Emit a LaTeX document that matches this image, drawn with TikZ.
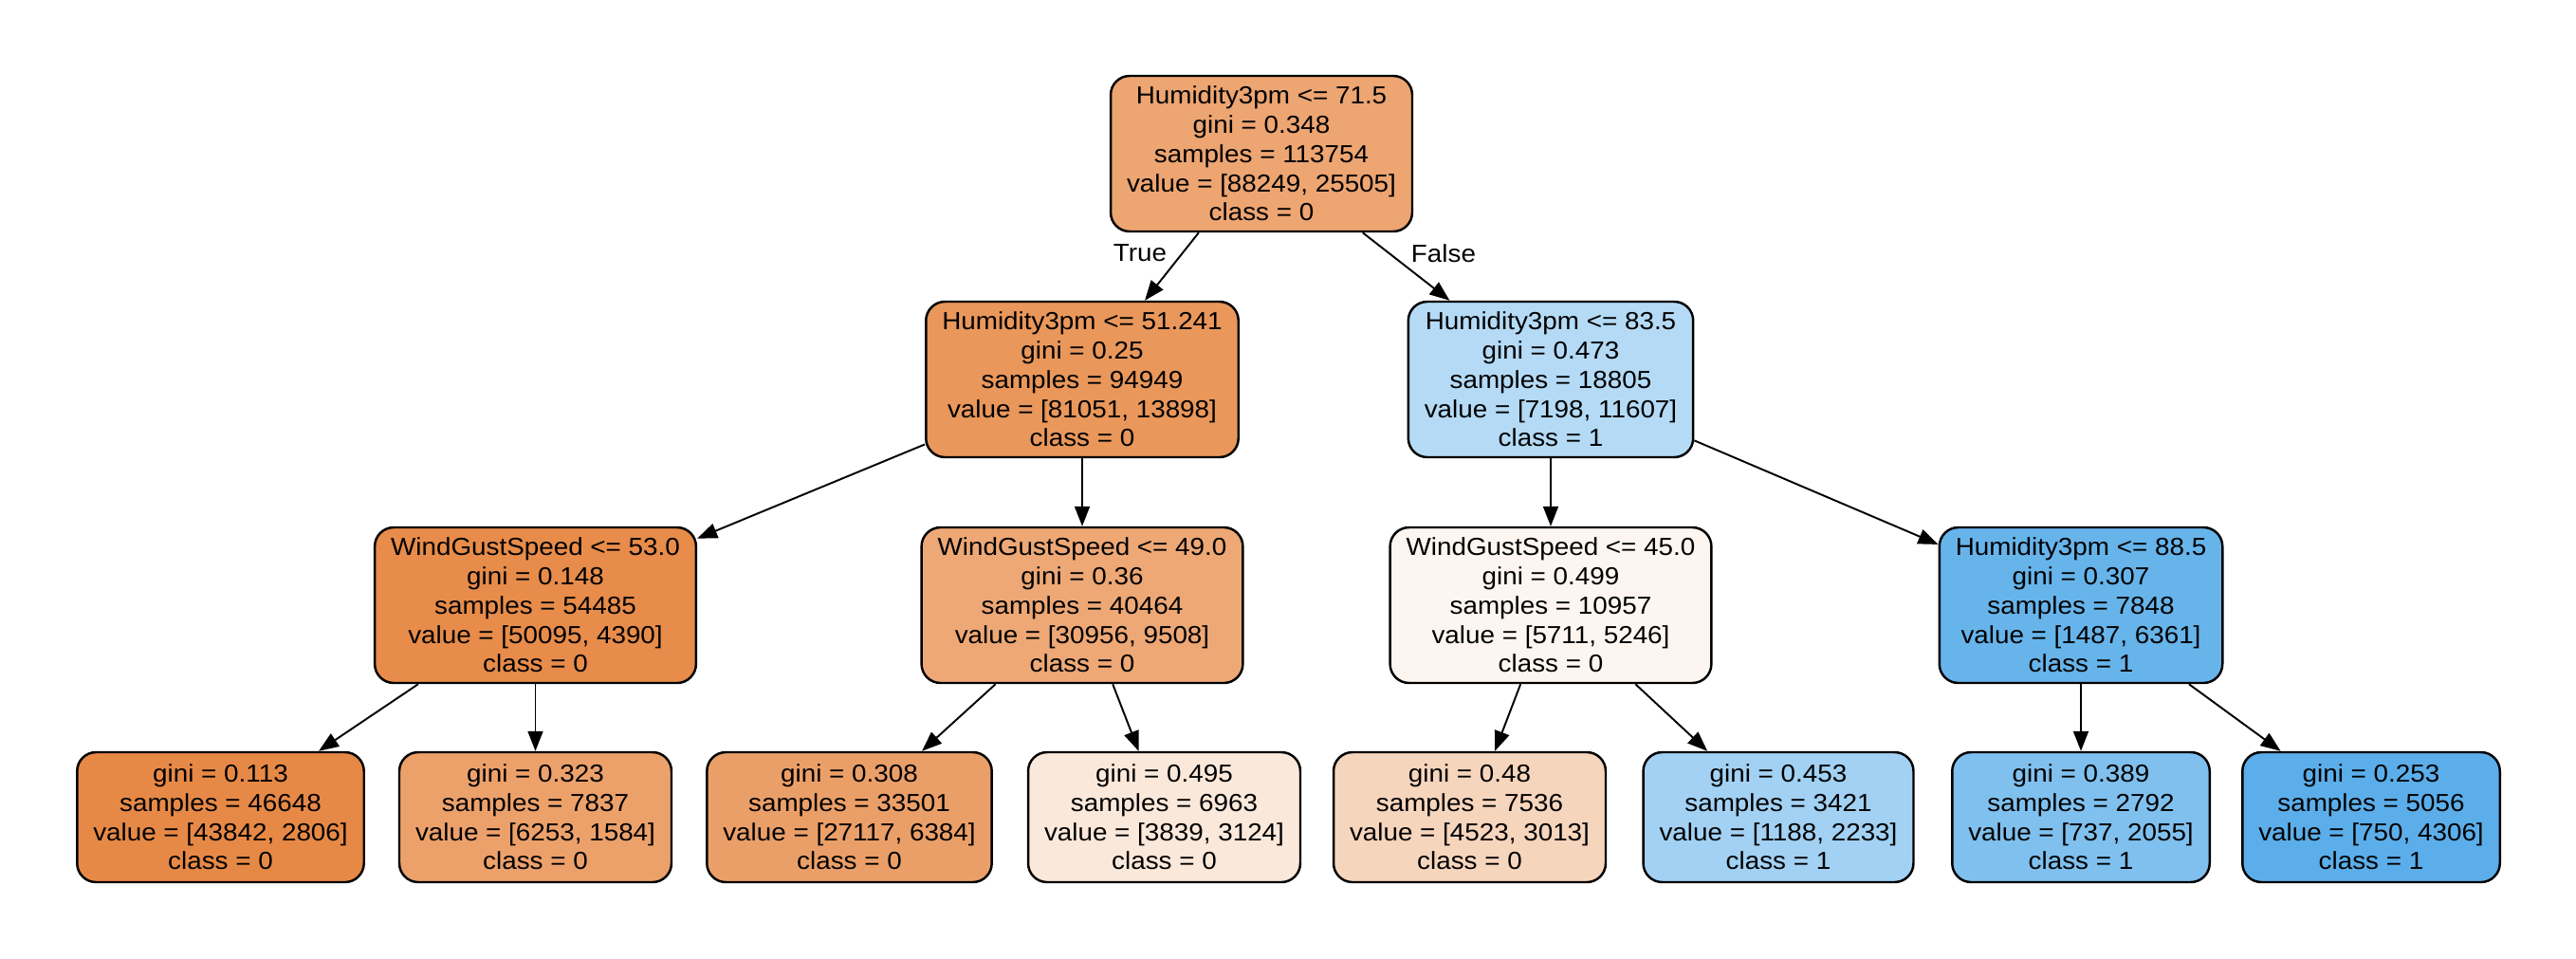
\documentclass[tikz,border=0pt]{standalone}
\usepackage{fontspec}
\setmainfont{Liberation Sans}[FakeStretch=1.07]
\usetikzlibrary{arrows.meta}
\definecolor{colroot}{HTML}{EDA572}
\definecolor{colhl}{HTML}{E9975B}
\definecolor{colhr}{HTML}{B4DAF5}
\definecolor{colwa}{HTML}{E78C4A}
\definecolor{colwb}{HTML}{EDA876}
\definecolor{colwc}{HTML}{FDF5EF}
\definecolor{colhd}{HTML}{67B4EB}
\definecolor{colla}{HTML}{E78946}
\definecolor{collb}{HTML}{ECA16B}
\definecolor{collc}{HTML}{EB9F68}
\definecolor{colld}{HTML}{FAE8DA}
\definecolor{colle}{HTML}{F6D5BD}
\definecolor{collf}{HTML}{A2D1F3}
\definecolor{collg}{HTML}{80C0EE}
\definecolor{collh}{HTML}{5BAEEA}

\begin{document}
\begin{tikzpicture}[
    font=\fontsize{7.4}{8.76}\selectfont,
    >={Triangle[length=2.1mm,width=1.6mm]},
    split/.style={draw=black, line width=0.7pt, rounded corners=0.2cm,
                  minimum height=1.64cm, inner xsep=0.17cm, inner ysep=0pt,
                  align=center},
    leaf/.style={split, minimum height=1.37cm},
    link/.style={draw=black, line width=0.55pt, ->},
    lbl/.style={inner sep=1pt},
  ]
  \path[use as bounding box, fill=white] (0,0) rectangle (27.16,-10.10);

  % Root and first split.
  \node[split, fill=colroot] (root) at (13.30,-1.62)
    {Humidity3pm <= 71.5\\gini = 0.348\\samples = 113754\\value = [88249, 25505]\\class = 0};
  \node[split, fill=colhl] (hl) at (11.41,-4.00)
    {Humidity3pm <= 51.241\\gini = 0.25\\samples = 94949\\value = [81051, 13898]\\class = 0};
  \node[split, fill=colhr] (hr) at (16.35,-4.00)
    {Humidity3pm <= 83.5\\gini = 0.473\\samples = 18805\\value = [7198, 11607]\\class = 1};

  \draw[link] (root) -- (hl);
  \draw[link] (root) -- (hr);
  \node[lbl] (ltrue) at (12.02,-2.67) {True};
  \node[lbl] (lfalse) at (15.22,-2.67) {False};

  % Second level.
  \node[split, fill=colwa] (wa) at (5.645,-6.38)
    {WindGustSpeed <= 53.0\\gini = 0.148\\samples = 54485\\value = [50095, 4390]\\class = 0};
  \node[split, fill=colwb] (wb) at (11.41,-6.38)
    {WindGustSpeed <= 49.0\\gini = 0.36\\samples = 40464\\value = [30956, 9508]\\class = 0};
  \node[split, fill=colwc] (wc) at (16.35,-6.38)
    {WindGustSpeed <= 45.0\\gini = 0.499\\samples = 10957\\value = [5711, 5246]\\class = 0};
  \node[split, fill=colhd] (hd) at (21.94,-6.38)
    {Humidity3pm <= 88.5\\gini = 0.307\\samples = 7848\\value = [1487, 6361]\\class = 1};

  \draw[link] (hl) -- (wa);
  \draw[link] (hl) -- (wb);
  \draw[link] (hr) -- (wc);
  \draw[link] (hr) -- (hd);

  % Leaves.
  \node[leaf, fill=colla] (la) at (2.325,-8.615)
    {gini = 0.113\\samples = 46648\\value = [43842, 2806]\\class = 0};
  \node[leaf, fill=collb] (lb) at (5.645,-8.615)
    {gini = 0.323\\samples = 7837\\value = [6253, 1584]\\class = 0};
  \node[leaf, fill=collc] (lc) at (8.955,-8.615)
    {gini = 0.308\\samples = 33501\\value = [27117, 6384]\\class = 0};
  \node[leaf, fill=colld] (ld) at (12.275,-8.615)
    {gini = 0.495\\samples = 6963\\value = [3839, 3124]\\class = 0};
  \node[leaf, fill=colle] (le) at (15.495,-8.615)
    {gini = 0.48\\samples = 7536\\value = [4523, 3013]\\class = 0};
  \node[leaf, fill=collf] (lf) at (18.75,-8.615)
    {gini = 0.453\\samples = 3421\\value = [1188, 2233]\\class = 1};
  \node[leaf, fill=collg] (lg) at (21.94,-8.615)
    {gini = 0.389\\samples = 2792\\value = [737, 2055]\\class = 1};
  \node[leaf, fill=collh] (lh) at (25.00,-8.615)
    {gini = 0.253\\samples = 5056\\value = [750, 4306]\\class = 1};

  \draw[link] (wa) -- (la);
  \draw[link] (wa) -- (lb);
  \draw[link] (wb) -- (lc);
  \draw[link] (wb) -- (ld);
  \draw[link] (wc) -- (le);
  \draw[link] (wc) -- (lf);
  \draw[link] (hd) -- (lg);
  \draw[link] (hd) -- (lh);
\end{tikzpicture}
\end{document}
